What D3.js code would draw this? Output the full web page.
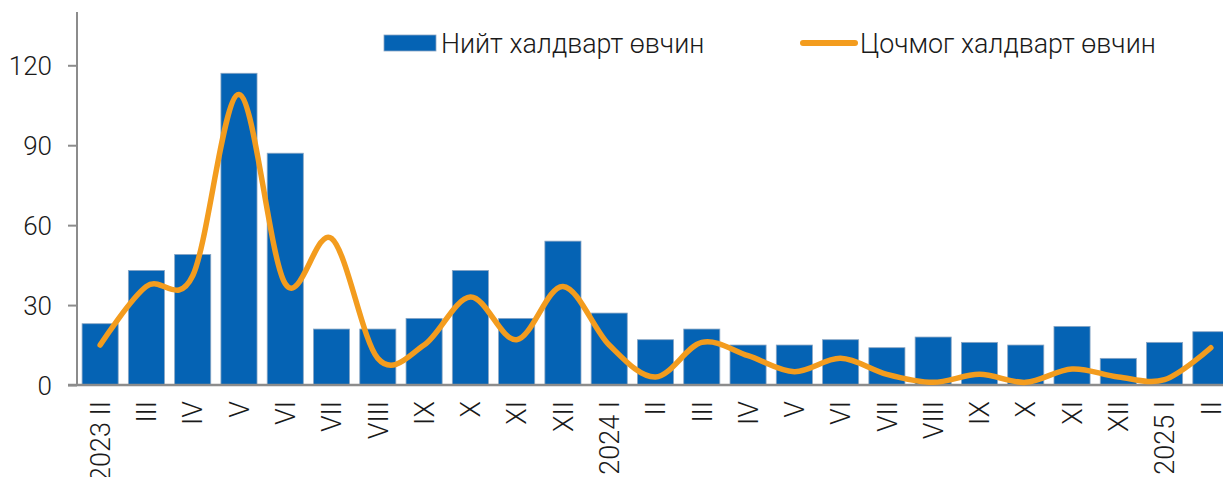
<!DOCTYPE html>
<html>
<head>
<meta charset="utf-8">
<script src="https://cdn.jsdelivr.net/npm/d3@7"></script>
<style>
  body { margin: 0; background: #fff; }
  text { font-family: Roboto, "Noto Sans", sans-serif; font-weight: 300; fill: #1a1a1a; }
</style>
</head>
<body>
<svg id="chart" width="1223" height="477"></svg>
<script>
// months (Roman numerals, year at January / start)
var categories = ["2023 II", "III", "IV", "V", "VI", "VII", "VIII", "IX", "X", "XI", "XII",
    "2024 I", "II", "III", "IV", "V", "VI", "VII", "VIII", "IX", "X", "XI", "XII",
    "2025 I", "II"];
// total infectious diseases (bars)
var totalCases = [23, 43, 49, 117, 87, 21, 21, 25, 43, 25, 54,
    27, 17, 21, 15, 15, 17, 14, 18, 16, 15, 22, 10, 16, 20];
// acute infectious diseases (line)
var acuteCases = [15, 37, 41, 109, 38, 55, 10, 15, 33, 17, 37,
    15, 3, 16, 11, 5, 10, 4, 1, 4, 1, 6, 3, 2, 14];
var yTicks = [0, 30, 60, 90, 120];
var seriesNames = ["Нийт халдварт өвчин", "Цочмог халдварт өвчин"];

var svg = d3.select("#chart");

var x = d3.scaleBand()
    .domain(d3.range(categories.length))
    .range([77, 1234])
    .paddingInner(0.22)
    .paddingOuter(0.11);

var y = d3.scaleLinear()
    .domain([0, 140])
    .range([385, 12]);

// bars
svg.append("g").selectAll("rect")
    .data(totalCases)
    .enter().append("rect")
    .attr("x", function (d, i) { return x(i); })
    .attr("y", function (d) { return y(d); })
    .attr("width", x.bandwidth())
    .attr("height", function (d) { return y(0) - y(d); })
    .style("fill", "#0563b4")
    .style("stroke", "#8aa6c4")
    .style("stroke-width", 0.8);

// y axis
var yAxis = svg.append("g")
    .attr("transform", "translate(77,0)")
    .call(d3.axisLeft(y).tickValues(yTicks).tickSize(9).tickPadding(16).tickSizeOuter(0));
yAxis.select(".domain").remove();
yAxis.append("line")
    .attr("x1", 0).attr("x2", 0)
    .attr("y1", 12).attr("y2", y(0))
    .style("stroke", "#8c8c8c").style("stroke-width", 2);
yAxis.selectAll(".tick line").style("stroke", "#8c8c8c").style("stroke-width", 2);
yAxis.selectAll(".tick text")
    .style("font-size", "26px")
    .style("font-family", "Roboto, sans-serif")
    .style("font-weight", 300)
    .style("fill", "#1a1a1a")
    .attr("dy", "0.36em");

// x axis line
svg.append("line")
    .attr("x1", 68).attr("x2", 1223)
    .attr("y1", y(0)).attr("y2", y(0))
    .style("stroke", "#8c8c8c").style("stroke-width", 2.5);

// x labels, rotated
svg.append("g").selectAll("text")
    .data(categories)
    .enter().append("text")
    .attr("transform", function (d, i) {
        return "translate(" + (x(i) + x.bandwidth() / 2) + ",401) rotate(-90)";
    })
    .attr("text-anchor", "end")
    .attr("dy", "0.36em")
    .style("font-size", "27px")
    .text(function (d) { return d; });

// line
var line = d3.line()
    .x(function (d, i) { return x(i) + x.bandwidth() / 2; })
    .y(function (d) { return y(d); })
    .curve(d3.curveCardinal.tension(0));

svg.append("path")
    .datum(acuteCases)
    .attr("d", line)
    .style("fill", "none")
    .style("stroke", "#f39c1e")
    .style("stroke-width", 5.5)
    .style("stroke-linecap", "round")
    .style("stroke-linejoin", "round");

// legend
var legend = svg.append("g");
legend.append("rect")
    .attr("x", 384).attr("y", 35)
    .attr("width", 52).attr("height", 16)
    .style("fill", "#0563b4")
    .style("stroke", "#8aa6c4")
    .style("stroke-width", 0.8);
legend.append("text")
    .attr("x", 441).attr("y", 53)
    .style("font-size", "26.8px")
    .text(seriesNames[0]);
legend.append("line")
    .attr("x1", 803).attr("x2", 855)
    .attr("y1", 43).attr("y2", 43)
    .style("stroke", "#f39c1e")
    .style("stroke-width", 6)
    .style("stroke-linecap", "round");
legend.append("text")
    .attr("x", 860).attr("y", 53)
    .style("font-size", "26.8px")
    .text(seriesNames[1]);
</script>
</body>
</html>
